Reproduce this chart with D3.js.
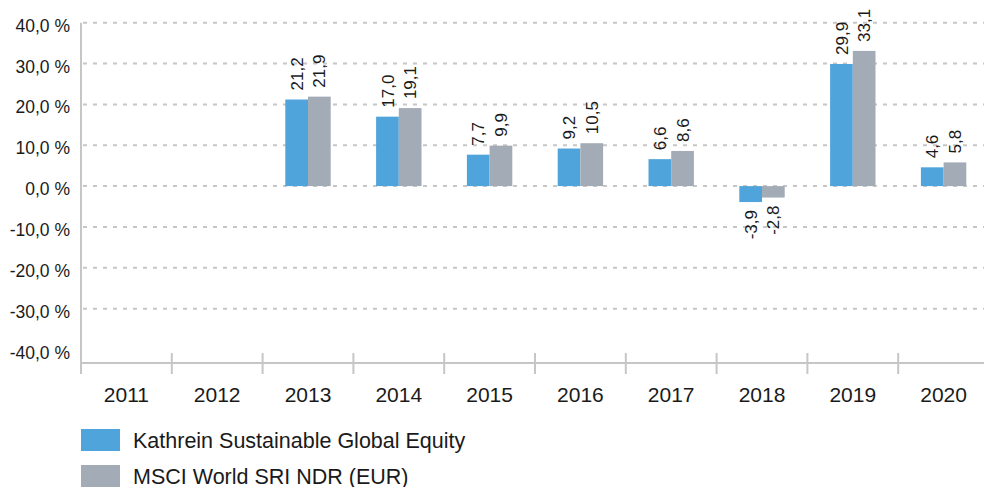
<!DOCTYPE html>
<html>
<head>
<meta charset="utf-8">
<script src="https://cdn.jsdelivr.net/npm/d3@7"></script>
<style>
  html, body { margin: 0; padding: 0; background: #fff; }
  svg { display: block; font-family: "Liberation Sans", Arial, sans-serif; }
</style>
</head>
<body>
<div id="chart"></div>
<script>
// Jahre und Werte (in %)
const years = ["2011", "2012", "2013", "2014", "2015", "2016", "2017", "2018", "2019", "2020"];
const fondsWerte = [null, null, 21.2, 17.0, 7.7, 9.2, 6.6, -3.9, 29.9, 4.6];
const indexWerte = [null, null, 21.9, 19.1, 9.9, 10.5, 8.6, -2.8, 33.1, 5.8];
const seriesNames = ["Kathrein Sustainable Global Equity", "MSCI World SRI NDR (EUR)"];
const yTicks = [40, 30, 20, 10, 0, -10, -20, -30, -40];

const colors = ["#4fa5db", "#a3acb6"];
const W = 984, H = 487;
const plotLeft = 81, plotRight = 989, plotTop = 22.7, plotBottom = 363;

const svg = d3.select("#chart").append("svg")
    .attr("width", W)
    .attr("height", H);

const x = d3.scaleBand()
    .domain(years)
    .range([plotLeft, plotRight])
    .padding(0);

const y = d3.scaleLinear()
    .domain([-43.3, 40])
    .range([plotBottom, plotTop]);

const fmt = v => v.toFixed(1).replace(".", ",");

// Gitternetz (gestrichelt)
svg.append("g")
    .selectAll("line")
    .data(yTicks.filter(t => t > -40))
    .enter()
    .append("line")
    .attr("x1", plotLeft + 2)
    .attr("x2", W)
    .attr("y1", d => y(d))
    .attr("y2", d => y(d))
    .attr("stroke", "#c6c6c6")
    .attr("stroke-width", 2)
    .attr("stroke-dasharray", "4,6");

// Y-Achse Beschriftung
svg.append("g")
    .selectAll("text")
    .data(yTicks)
    .enter()
    .append("text")
    .attr("x", 70)
    .attr("y", d => y(d) + 9)
    .attr("text-anchor", "end")
    .attr("font-size", "17.5px")
    .attr("fill", "#1a1a1a")
    .text(d => fmt(d) + " %");

// Balken
const bw = x.bandwidth() / 4;
const series = [fondsWerte, indexWerte];
series.forEach((werte, s) => {
    const rows = years.map((yr, i) => ({ yr, v: werte[i] })).filter(d => d.v !== null);
    svg.append("g")
        .selectAll("rect")
        .data(rows)
        .enter()
        .append("rect")
        .attr("x", d => x(d.yr) + x.bandwidth() / 4 + s * bw)
        .attr("width", bw)
        .attr("y", d => y(Math.max(0, d.v)))
        .attr("height", d => Math.abs(y(d.v) - y(0)))
        .attr("fill", colors[s]);

    // Werte-Beschriftung (gedreht)
    svg.append("g")
        .selectAll("text")
        .data(rows)
        .enter()
        .append("text")
        .attr("transform", d => {
            const cx = x(d.yr) + x.bandwidth() / 4 + s * bw + bw / 2;
            const cy = d.v >= 0 ? y(d.v) - 9 : y(d.v) + 8;
            return `translate(${cx},${cy}) rotate(-90)`;
        })
        .attr("dy", "0.36em")
        .attr("text-anchor", d => d.v >= 0 ? "start" : "end")
        .attr("font-size", "17px")
        .attr("fill", "#1a1a1a")
        .text(d => fmt(d.v));
});

// Achsenlinien
svg.append("line")
    .attr("x1", plotLeft).attr("x2", plotLeft)
    .attr("y1", plotTop).attr("y2", plotBottom + 11)
    .attr("stroke", "#c6c6c6")
    .attr("stroke-width", 2);

svg.append("line")
    .attr("x1", plotLeft).attr("x2", W)
    .attr("y1", plotBottom).attr("y2", plotBottom)
    .attr("stroke", "#c6c6c6")
    .attr("stroke-width", 2);

// Tick-Striche zwischen den Jahren
svg.append("g")
    .selectAll("line")
    .data(years.slice(1))
    .enter()
    .append("line")
    .attr("x1", d => x(d)).attr("x2", d => x(d))
    .attr("y1", plotBottom - 10).attr("y2", plotBottom + 11)
    .attr("stroke", "#c6c6c6")
    .attr("stroke-width", 2);

// Jahres-Beschriftung
svg.append("g")
    .selectAll("text")
    .data(years)
    .enter()
    .append("text")
    .attr("x", d => x(d) + x.bandwidth() / 2)
    .attr("y", 402)
    .attr("text-anchor", "middle")
    .attr("font-size", "21px")
    .attr("fill", "#1a1a1a")
    .text(d => d);

// Legende
const legend = svg.append("g")
    .selectAll("g")
    .data(seriesNames)
    .enter()
    .append("g")
    .attr("transform", (d, i) => `translate(81,${429 + i * 36})`);

legend.append("rect")
    .attr("width", 39)
    .attr("height", 22)
    .attr("fill", (d, i) => colors[i]);

legend.append("text")
    .attr("x", 52)
    .attr("y", 19)
    .attr("font-size", "21.5px")
    .attr("fill", "#1a1a1a")
    .text(d => d);
</script>
</body>
</html>
